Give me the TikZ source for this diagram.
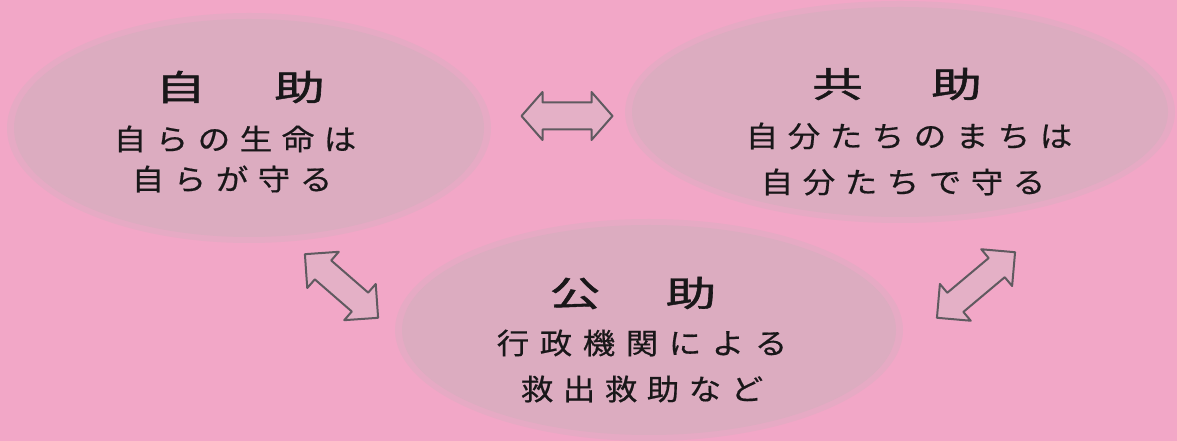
\documentclass[tikz,border=0pt]{standalone}
\usepackage{fontspec}
\usepackage{graphicx}
\usetikzlibrary{shapes.geometric}
\newfontfamily\jpfont[FakeBold=0.5]{Noto Sans CJK JP}
\newfontfamily\jptitle[FakeBold=1.2]{Noto Sans CJK JP}
\definecolor{bgpink}{RGB}{242,167,199}
\definecolor{bubblecol}{RGB}{220,172,192}
\definecolor{bubbleedge}{RGB}{230,170,196}
\definecolor{arrowline}{RGB}{96,90,96}
\definecolor{arrowfill}{RGB}{228,176,198}
\definecolor{textcol}{RGB}{25,23,25}
\makeatletter
\newcommand\pchars[3]{\@tfor\pcx:=#3\do{\makebox[#1]{\scalebox{#2}[1]{\pcx}}}}
\makeatother
\newcommand\dblarrowpath[4]{% half length, head length, half head, half shaft
  (-#1,0) -- (-#1+#2,#3) -- (-#1+#2,#4) -- (#1-#2,#4) -- (#1-#2,#3) -- (#1,0)
  -- (#1-#2,-#3) -- (#1-#2,-#4) -- (-#1+#2,-#4) -- (-#1+#2,-#3) -- cycle}
\begin{document}
\begin{tikzpicture}[x=1pt,y=1pt,
  bubble/.style={ellipse, fill=bubblecol, inner sep=0pt},
  halo/.style={ellipse, fill=bubbleedge, inner sep=0pt},
  ttl/.style={font=\jptitle\fontsize{35}{38}\selectfont, inner sep=0pt, text=textcol},
  txt/.style={font=\jpfont\fontsize{29}{32}\selectfont, inner sep=0pt, text=textcol},
  dbl/.style={draw=arrowline, fill=arrowfill, line width=2pt, line join=round}]
\useasboundingbox (0,0) rectangle (1177,441);
\fill[bgpink] (0,0) rectangle (1177,441);

% bubbles
\node[halo, minimum width=484pt, minimum height=230pt] (selfh) at (249,313) {};
\node[bubble, minimum width=470pt, minimum height=218pt] (self) at (249,313) {};
\node[halo, minimum width=550pt, minimum height=222pt] (mutualh) at (900,329) {};
\node[bubble, minimum width=536pt, minimum height=210pt] (mutual) at (900,329) {};
\node[halo, minimum width=508pt, minimum height=222pt] (publich) at (649,111) {};
\node[bubble, minimum width=494pt, minimum height=210pt] (public) at (649,111) {};

% texts
\node[ttl] (selfT) at (240,354) {\pchars{119pt}{1.45}{自助}};
\node[txt] (selfA) at (235,302) {\pchars{42pt}{1.12}{自らの生命は}};
\node[txt] (selfB) at (232,262) {\pchars{42pt}{1.12}{自らが守る}};

\node[ttl] (mutualT) at (897,357) {\pchars{119pt}{1.45}{共助}};
\node[txt] (mutualA) at (909,305) {\pchars{42pt}{1.12}{自分たちのまちは}};
\node[txt] (mutualB) at (903,259) {\pchars{42pt}{1.12}{自分たちで守る}};

\node[ttl] (publicT) at (633,148) {\pchars{116pt}{1.45}{公助}};
\node[txt] (publicA) at (642,98) {\pchars{43pt}{1.12}{行政機関による}};
\node[txt] (publicB) at (642,52) {\pchars{42pt}{1.12}{救出救助など}};

% double arrows between bubbles
\coordinate (arrSM) at (567,325);
\coordinate (arrSP) at (341.5,155);
\coordinate (arrMP) at (976,156);
\begin{scope}[shift={(arrSM)}]
  \draw[dbl] \dblarrowpath{45.5}{21}{24}{13.5};
\end{scope}
\begin{scope}[shift={(arrSP)}, rotate=-41]
  \draw[dbl] \dblarrowpath{48.5}{24}{24}{12.5};
\end{scope}
\begin{scope}[shift={(arrMP)}, rotate=40]
  \draw[dbl] \dblarrowpath{51}{24}{24}{12.5};
\end{scope}
\end{tikzpicture}
\end{document}
